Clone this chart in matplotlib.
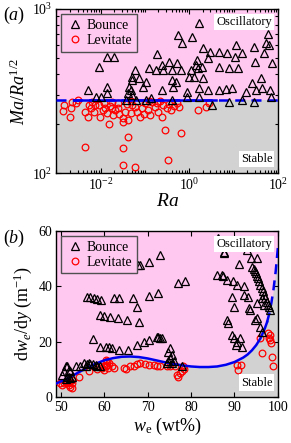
import numpy as np
import matplotlib
matplotlib.use('Agg')
import matplotlib.pyplot as plt
from matplotlib.lines import Line2D
from matplotlib.ticker import LogLocator, NullFormatter, FixedLocator, LogFormatterMathtext

plt.rcParams['font.family'] = ['Liberation Serif', 'DejaVu Serif']
plt.rcParams['mathtext.fontset'] = 'custom'
plt.rcParams['mathtext.rm'] = 'Liberation Serif'
plt.rcParams['mathtext.it'] = 'Liberation Serif:italic'
plt.rcParams['mathtext.bf'] = 'Liberation Serif:bold'

# ── panel (a): Ma/Ra^1/2 vs Ra ─────────────────────────────────────────────────
ra_bounce = [1.66, 0.56, 1.16, 0.69, 59, 53, 62, 11.3, 2.04, 2.93, 2.64, 4.7, 7.1, 15.4, 28.6,
             48, 10.7, 0.189, 0.0142, 0.0204, 0.0089, 0.245, 0.35, 0.53, 0.41, 0.65, 0.125, 0.18,
             0.26, 0.058, 0.052, 0.074, 0.052, 1.50, 1.42, 1.58, 1.10, 1.94, 4.7, 7.8, 12.5, 30,
             73, 1.28, 0.99, 2.04, 0.107, 0.092, 0.044, 0.047, 0.042, 0.41, 0.43, 0.50, 25.8, 41,
             31.7, 43, 65, 69, 0.0051, 0.0135, 0.0135, 0.245, 0.89, 1.66, 2.64, 4.7, 6.7, 9.2,
             18.9, 0.008, 0.0104, 0.052, 0.064, 0.139, 0.89, 1.66, 7.8, 15.4, 28.6, 3.25, 0.41,
             0.107, 0.038]
ma_bounce = [823, 694, 675, 621, 705, 621, 603, 603, 578, 547, 503, 547, 539, 539, 586,
             539, 510, 532, 510, 510, 443, 456, 475, 469, 425, 425, 436, 425,
             425, 425, 385, 379, 369, 489, 456, 436, 425, 443, 443, 436, 436, 475,
             469, 385, 385, 379, 359, 334, 334, 321, 307, 369, 334, 359, 354, 379,
             321, 330, 321, 290, 321, 334, 307, 321, 312, 330, 321, 321, 325, 330,
             312, 290, 290, 299, 279, 287, 290, 290, 271, 279, 271, 260, 279,
             279, 279]

ra_levitate = [0.00139, 0.00146, 0.0020, 0.0021, 0.0023, 0.0027, 0.0030, 0.0045, 0.0051, 0.0043,
               0.0053, 0.0059, 0.0069, 0.0076, 0.0089, 0.0094, 0.0116, 0.0128, 0.0142, 0.015,
               0.0175, 0.0194, 0.0239, 0.025, 0.031, 0.0325, 0.036, 0.042, 0.042, 0.0325,
               0.031, 0.058, 0.040, 0.049, 0.0605, 0.067, 0.078, 0.087, 0.102, 0.119,
               0.132, 0.17, 0.189, 0.199, 0.245, 0.26, 0.32, 0.35, 0.39, 0.455,
               0.53, 0.59, 0.286, 0.334, 0.65, 1.58, 2.39, 2.79, 0.0184, 0.0215,
               0.047, 0.146, 0.22, 0.096, 0.0264, 0.0065, 0.0158, 0.011, 0.052, 0.125]
ma_levitate = [239, 260, 219, 249, 271, 267, 279, 236, 219, 144,
               260, 249, 236, 260, 260, 219, 267, 249, 232, 199,
               271, 226, 267, 249, 216, 205, 236, 210, 166, 142,
               112, 109, 264, 275, 253, 236, 219, 249, 267, 242,
               226, 253, 267, 236, 219, 260, 249, 264, 242, 256,
               267, 253, 183, 120, 175, 242, 253, 267, 249, 242,
               232, 271, 275, 229, 229, 271, 256, 242, 260, 275]

ma_crit = 280                      # critical Ma/Ra^1/2
ra_solid = [0.0025, 4.0]           # solid part of the criterion line

# ── panel (b): dw_e/dy vs w_e ─────────────────────────────────────────────────
we_bounce = [51.1, 51.5, 51.8, 52.2, 51.5, 51.8, 52.2, 51.1, 52.6, 50.7, 50.3,
             53.4, 54.5, 55.7, 55.3, 56.4, 56.8, 57.4, 58.0, 58.3, 59.1, 56.0,
             57.4, 56.0, 56.8, 57.6, 58.4, 59.2, 59.1, 59.9, 61.3, 63.1, 65.3,
             62.2, 63.5, 66.6, 67.6, 67.9, 67.7, 68.3, 70.2, 72.9, 70.2, 72.3,
             77.1, 78.7, 85.9, 87.1, 87.3, 87.5, 87.7, 86.3, 92.8, 91.1, 93.8, 95.1,
             89.4, 89.8, 88.2, 89.6, 90.5, 92.1, 92.3, 93.0, 93.4, 93.6,
             94.1, 94.4, 94.8, 95.0, 95.1, 95.5, 95.7, 95.9, 96.3, 96.5, 96.8, 97.0,
             97.4, 97.8, 98.0, 98.2, 96.3, 96.7, 95.1,
             88.2, 88.6, 89.4, 89.8, 90.5, 91.3, 90.4, 91.7,
             94.7, 95.1, 95.9, 96.3,
             74.8, 75.2, 75.6, 75.2, 74.8, 75.6, 76.0, 74.4, 77.9,
             67.5, 69.1, 70.2, 72.1, 72.5, 72.9, 73.3,
             59.1, 60.3, 61.0, 61.8, 63.3, 65.4]
dw_bounce = [11.0, 11.0, 9.8, 9.2, 7.3, 7.3, 6.7, 6.4, 7.3, 9.2, 8.0,
             11.0, 11.0, 11.0, 12.2, 12.2, 11.9, 11.9, 11.6, 11.2, 11.2, 11.9,
             20.8, 36.2, 36.0, 35.6, 35.2, 34.9, 29.6, 29.4, 29.0, 28.4, 27.8,
             35.7, 35.7, 35.7, 32.4, 27.2, 47.5, 47.7, 48.9, 51.3, 36.5, 37.5,
             41.1, 41.7, 44.1, 44.1, 43.7, 51.9, 52.5, 57.4, 53.1, 48.0, 50.1, 50.1,
             36.2, 32.6, 42.3, 41.7, 40.5, 39.9, 36.9, 36.2, 32.1, 31.4,
             47.1, 46.1, 45.6, 44.7, 43.7, 42.9, 41.7, 40.5, 39.3, 38.1, 36.9, 35.7,
             34.4, 33.2, 32.4, 31.4, 35.7, 33.2, 33.8,
             27.8, 26.6, 22.4, 21.2, 20.0, 21.2, 18.8, 18.2,
             27.8, 28.4, 25.4, 23.6,
             16.4, 17.6, 15.2, 14.0, 12.8, 12.2, 12.8, 12.2, 11.0,
             18.8, 20.0, 20.6, 21.8, 21.6, 21.4, 21.2,
             18.2, 18.2, 18.2, 17.6, 17.0, 17.0]

we_levitate = [49.9, 50.7, 51.5, 51.8, 52.2, 52.6, 51.8, 51.1, 52.6, 52.6, 50.3,
               54.1, 56.4, 58.3, 58.7, 59.5, 59.9, 60.3, 60.6, 61.0, 60.6, 60.5, 60.8,
               61.8, 62.2, 59.9, 64.5, 65.1, 66.0, 66.8, 67.5, 68.3, 69.5, 70.2, 71.4,
               72.1, 72.9, 74.4, 75.2, 76.4, 76.7, 77.1, 77.5, 77.9, 78.3, 78.1,
               90.5, 90.9, 91.4, 95.9, 96.3, 97.8, 98.2, 98.0, 98.2, 98.3, 98.6, 98.8]
dw_levitate = [4.9, 4.9, 4.9, 4.3, 3.7, 3.1, 5.5, 5.5, 4.9, 6.1, 4.3,
               7.3, 9.2, 10.0, 11.0, 10.4, 11.0, 11.2, 11.6, 12.2, 12.8, 13.4, 10.6,
               11.0, 10.6, 9.8, 10.4, 10.0, 11.0, 11.3, 11.9, 12.2, 11.9, 11.6, 11.6,
               11.3, 11.3, 11.0, 11.0, 11.0, 8.0, 7.3, 8.6, 9.2, 10.0, 11.0,
               11.6, 9.8, 11.6, 21.2, 15.8, 23.0, 22.4, 21.2, 20.6, 19.6, 14.6, 11.3]

# criterion curve (solid part, then dashed extrapolation)
we_curve = [49, 50, 52, 54, 56, 58, 60, 62, 64, 66, 68, 70, 72, 74, 76, 78, 80, 82, 84,
            86, 88, 90, 92, 93, 94, 95, 96, 97, 97.5]
dw_curve = [4.9, 5.6, 7.0, 8.8, 10.5, 12.0, 13.2, 14.0, 14.5, 14.6, 14.4, 13.9, 13.2, 12.5,
            11.9, 11.4, 11.0, 10.8, 10.8, 11.0, 11.6, 12.6, 14.2, 15.3, 16.8, 18.7, 21.2,
            24.8, 27.0]
we_dash = [97.5, 98, 98.5, 99, 99.5, 100]
dw_dash = [27.0, 30.0, 34.0, 39.0, 45.5, 54.0]

PINK = '#FFC8F0'
GRAY = '#D2D2D2'
BLUE = '#0000F0'
MS_TRI = 5.2
MS_CIR = 4.8
DASH = (0, (4, 2.5))

fig = plt.figure(figsize=(2.91, 4.43), dpi=100)
ax1 = fig.add_axes([0.194, 0.609, 0.761, 0.371])
ax2 = fig.add_axes([0.194, 0.104, 0.761, 0.375])

box = dict(facecolor='white', edgecolor='none', pad=1.5)
handles = [Line2D([], [], ls='none', marker='^', mfc='none', mec='black', ms=MS_TRI, mew=0.9),
           Line2D([], [], ls='none', marker='o', mfc='none', mec='red', ms=MS_CIR, mew=0.9)]


def style(ax):
    ax.tick_params(which='both', direction='in', top=True, right=True, labelsize=10,
                   width=0.8, pad=3)
    ax.tick_params(which='major', length=3.5)
    ax.tick_params(which='minor', length=2)
    for s in ax.spines.values():
        s.set_linewidth(1.0)


def add_legend(ax):
    leg = ax.legend(handles, ['Bounce', 'Levitate'], loc='upper left', fontsize=10,
                    fancybox=False, borderpad=0.35, handletextpad=0.3, handlelength=1.2,
                    labelspacing=0.15, borderaxespad=0.35)
    frame = leg.get_frame()
    frame.set_edgecolor('#505050')
    frame.set_facecolor(PINK)
    frame.set_alpha(1)
    frame.set_linewidth(1.0)
    leg.set_zorder(10)


def regime_labels(ax):
    ax.text(0.975, 0.955, 'Oscillatory', transform=ax.transAxes, ha='right', va='top',
            fontsize=9, bbox=box, zorder=9)
    ax.text(0.975, 0.05, 'Stable', transform=ax.transAxes, ha='right', va='bottom',
            fontsize=9, bbox=box, zorder=9)


# ── (a) ───────────────────────────────────────────────────────────────────────
ax1.set_xscale('log')
ax1.set_yscale('log')
ax1.set_xlim(1e-3, 1e2)
ax1.set_ylim(100, 1000)
ax1.axhspan(ma_crit, 1000, color=PINK, zorder=0, lw=0)
ax1.axhspan(100, ma_crit, color=GRAY, zorder=0, lw=0)
ax1.plot(ra_levitate, ma_levitate, 'o', mfc='none', mec='red', ms=MS_CIR, mew=0.9, zorder=3)
ax1.plot([1e-3, 1e2], [ma_crit, ma_crit], color=BLUE, lw=1.8, ls=DASH, zorder=4)
ax1.plot(ra_solid, [ma_crit, ma_crit], color=BLUE, lw=1.8, zorder=4)
ax1.plot(ra_bounce, ma_bounce, '^', mfc='none', mec='black', ms=MS_TRI, mew=0.9, zorder=5)
add_legend(ax1)
ax1.xaxis.set_major_locator(FixedLocator([1e-2, 1e0, 1e2]))
ax1.xaxis.set_major_formatter(LogFormatterMathtext())
ax1.xaxis.set_minor_locator(LogLocator(base=10, subs=np.arange(1, 10), numticks=20))
ax1.xaxis.set_minor_formatter(NullFormatter())
ax1.yaxis.set_major_locator(FixedLocator([1e2, 1e3]))
ax1.yaxis.set_major_formatter(LogFormatterMathtext())
ax1.yaxis.set_minor_locator(LogLocator(base=10, subs=np.arange(2, 10), numticks=20))
ax1.yaxis.set_minor_formatter(NullFormatter())
style(ax1)
ax1.set_xlabel(r'$Ra$', fontsize=14, labelpad=0)
ax1.set_ylabel(r'$Ma/Ra^{1/2}$', fontsize=13, labelpad=2)
regime_labels(ax1)

# ── (b) ───────────────────────────────────────────────────────────────────────
ax2.set_xlim(49, 100)
ax2.set_ylim(0, 60)
ax2.axhspan(0, 60, color=PINK, zorder=0, lw=0)
ax2.fill_between(we_curve + we_dash[1:], dw_curve + dw_dash[1:], 0, color=GRAY,
                 zorder=1, lw=0)
ax2.plot(we_levitate, dw_levitate, 'o', mfc='none', mec='red', ms=MS_CIR, mew=0.9, zorder=3)
ax2.plot(we_curve, dw_curve, color=BLUE, lw=1.8, zorder=4)
ax2.plot(we_dash, dw_dash, color=BLUE, lw=1.8, ls=DASH, zorder=4)
ax2.plot(we_bounce, dw_bounce, '^', mfc='none', mec='black', ms=MS_TRI, mew=0.9, zorder=5)
add_legend(ax2)
ax2.set_xticks([50, 60, 70, 80, 90, 100])
ax2.set_yticks([0, 20, 40, 60])
style(ax2)
ax2.set_xlabel(r'$w_{\mathrm{e}}$ (wt%)', fontsize=13, labelpad=1)
ax2.set_ylabel(r'd$w_{e}$/d$y$ (m$^{-1}$)', fontsize=13, labelpad=3)
regime_labels(ax2)

fig.text(0.012, 0.99, r'($a$)', fontsize=13, ha='left', va='top')
fig.text(0.012, 0.485, r'($b$)', fontsize=13, ha='left', va='top')

fig.savefig('out.png', dpi=100)
